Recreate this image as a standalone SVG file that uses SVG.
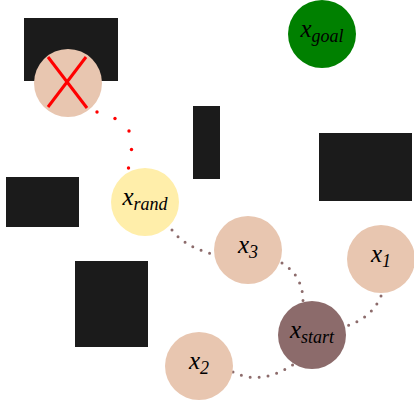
<svg xmlns="http://www.w3.org/2000/svg" width="414" height="405" viewBox="0 0 414 405">
<style>
.obs{fill:#1b1b1b}
.node{fill:#e8c6b0}
.lbl{font-family:"Liberation Serif","DejaVu Serif",serif;font-style:italic;font-size:25px;fill:#000;text-anchor:middle}
.sub{font-size:18px}
.edge{fill:none;stroke:#8c6b6b;stroke-width:3;stroke-linecap:round;stroke-dasharray:0 9}
.rdot{fill:#ff0000}
</style>
<rect width="414" height="405" fill="#fff"/>
<g id="obstacles">
<rect class="obs" x="24" y="18" width="94" height="63"/>
<rect class="obs" x="193" y="106" width="27" height="73"/>
<rect class="obs" x="6" y="177" width="73" height="50"/>
<rect class="obs" x="319" y="133" width="93" height="68"/>
<rect class="obs" x="75" y="261" width="73" height="86"/>
</g>
<g id="connectors">
<g id="red-path">
<circle class="rdot" cx="97" cy="112" r="1.7"/>
<circle class="rdot" cx="115" cy="118.5" r="1.7"/>
<circle class="rdot" cx="129" cy="131" r="1.7"/>
<circle class="rdot" cx="131.5" cy="149.5" r="1.7"/>
<circle class="rdot" cx="128.5" cy="168" r="1.7"/>
</g>
<path class="edge" d="M172,230 Q184,246 212,254"/>
<path class="edge" d="M282,263 Q303,276 303,301"/>
<path class="edge" d="M381,296 Q372,318 346,326"/>
<path class="edge" d="M233,372 Q261,386 294,364"/>
</g>
<g id="x-removed">
<circle class="node" cx="68" cy="83" r="34"/>
<line x1="48" y1="57" x2="87" y2="108" stroke="#ff0000" stroke-width="3"/>
<line x1="86" y1="57" x2="48" y2="107" stroke="#ff0000" stroke-width="3"/>
</g>
<g id="x-goal">
<circle cx="322" cy="34" r="34" fill="#008000"/>
<text class="lbl" x="322" y="37">x<tspan class="sub" dy="5">goal</tspan></text>
</g>
<g id="x-rand">
<circle cx="145" cy="202" r="34" fill="#ffeeaa"/>
<text class="lbl" x="145" y="205">x<tspan class="sub" dy="5">rand</tspan></text>
</g>
<g id="x-3">
<circle class="node" cx="248" cy="250" r="34"/>
<text class="lbl" x="248" y="253">x<tspan class="sub" dy="5">3</tspan></text>
</g>
<g id="x-1">
<circle class="node" cx="381" cy="259" r="34"/>
<text class="lbl" x="381" y="262">x<tspan class="sub" dy="5">1</tspan></text>
</g>
<g id="x-start">
<circle cx="312" cy="335" r="34" fill="#8c6b6b"/>
<text class="lbl" x="312" y="338">x<tspan class="sub" dy="5">start</tspan></text>
</g>
<g id="x-2">
<circle class="node" cx="199" cy="366" r="34"/>
<text class="lbl" x="199" y="369">x<tspan class="sub" dy="5">2</tspan></text>
</g>
</svg>
